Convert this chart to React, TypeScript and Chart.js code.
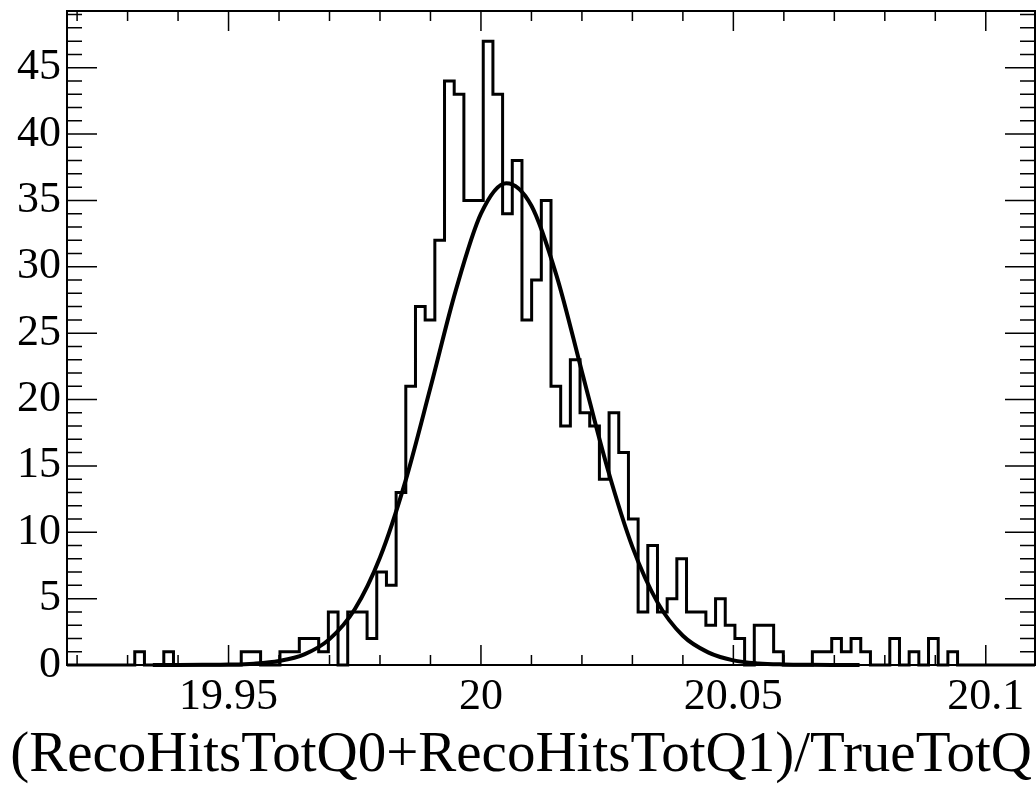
import React, { useEffect, useRef } from 'react';
import { Chart, registerables } from 'chart.js';

Chart.register(...registerables);

// ---- data ----
const X_MIN = 19.918;
const BIN_WIDTH = 0.0019175;
const N_BINS = 100;
const X_MAX = X_MIN + N_BINS * BIN_WIDTH;
const Y_MIN = 0;
const Y_MAX = 49.27;

// counts per bin (100 bins, left to right)
const BIN_COUNTS = [
  0, 0, 0, 0, 0, 0, 0, 1, 0, 0,
  1, 0, 0, 0, 0, 0, 0, 0, 1, 1,
  0, 0, 1, 1, 2, 2, 1, 4, 0, 4,
  4, 2, 7, 6, 13, 21, 27, 26, 32, 44,
  43, 35, 35, 47, 43, 34, 38, 26, 29, 35,
  21, 18, 23, 19, 18, 14, 19, 16, 11, 4,
  9, 4, 5, 8, 4, 4, 3, 5, 3, 2,
  0, 3, 3, 1, 0, 0, 0, 1, 1, 2,
  1, 2, 1, 0, 0, 2, 0, 1, 0, 2,
  0, 1, 0, 0, 0, 0, 0, 0, 0, 0,
];

// fitted curve, points
const CURVE_X = [
  19.935, 19.94, 19.945, 19.95, 19.955, 19.96, 19.965, 19.97, 19.975, 19.98,
  19.985, 19.99, 19.995, 20.0, 20.005, 20.01, 20.015, 20.02, 20.025, 20.03,
  20.035, 20.04, 20.045, 20.05, 20.055, 20.06, 20.065, 20.07, 20.075,
];
const CURVE_Y = [
  0, 0, 0.01, 0.03, 0.1, 0.3, 0.8, 1.95, 4.2, 8.1,
  13.8, 20.9, 28.2, 34.0, 36.3, 34.6, 29.3, 22.1, 14.9, 8.9,
  4.7, 2.2, 0.95, 0.35, 0.12, 0.04, 0.01, 0, 0,
];

const X_TICK_VALUES = [19.95, 20, 20.05, 20.1];
const X_TICK_LABELS = ['19.95', '20', '20.05', '20.1'];
const Y_TICK_VALUES = [0, 5, 10, 15, 20, 25, 30, 35, 40, 45];
const Y_TICK_LABELS = ['0', '5', '10', '15', '20', '25', '30', '35', '40', '45'];
const X_MINOR_STEP = 0.01;
const Y_MINOR_STEP = 1;
const X_TITLE = '(RecoHitsTotQ0+RecoHitsTotQ1)/TrueTotQ';

const FONT = '"Liberation Serif", "Times New Roman", Times, serif';

const frameTicksPlugin = {
  id: 'frameTicks',
  afterDatasetsDraw(chart: any) {
    const { ctx, chartArea: a, scales } = chart;
    const xs = scales.x;
    const ys = scales.y;
    ctx.save();
    ctx.strokeStyle = '#000';
    ctx.lineWidth = 1.5;
    ctx.beginPath();
    const kx0 = Math.ceil(X_MIN / X_MINOR_STEP - 1e-9);
    const kx1 = Math.floor(X_MAX / X_MINOR_STEP + 1e-9);
    for (let k = kx0; k <= kx1; k++) {
      const v = k * X_MINOR_STEP;
      const px = xs.getPixelForValue(v);
      const major = X_TICK_VALUES.some((t) => Math.abs(t - v) < 1e-6);
      const len = major ? 20 : 10;
      ctx.moveTo(px, a.bottom);
      ctx.lineTo(px, a.bottom - len);
      ctx.moveTo(px, a.top);
      ctx.lineTo(px, a.top + len);
    }
    const ky0 = Math.ceil(Y_MIN / Y_MINOR_STEP - 1e-9);
    const ky1 = Math.floor(Y_MAX / Y_MINOR_STEP + 1e-9);
    for (let k = ky0; k <= ky1; k++) {
      const v = k * Y_MINOR_STEP;
      const py = ys.getPixelForValue(v);
      const major = Y_TICK_VALUES.some((t) => Math.abs(t - v) < 1e-6);
      const len = major ? 30 : 15;
      ctx.moveTo(a.left, py);
      ctx.lineTo(a.left + len, py);
      ctx.moveTo(a.right, py);
      ctx.lineTo(a.right - len, py);
    }
    ctx.stroke();
    ctx.lineWidth = 2;
    ctx.strokeRect(a.left, a.top, a.right - a.left, a.bottom - a.top);

    // axis title (right-aligned, wider than the frame as in the reference)
    ctx.fillStyle = '#000';
    ctx.font = `57px ${FONT}`;
    ctx.textAlign = 'right';
    ctx.textBaseline = 'alphabetic';
    ctx.fillText(X_TITLE, a.right - 3, 771);
    ctx.restore();
  },
};

export default function App() {
  const ref = useRef<HTMLCanvasElement>(null);

  useEffect(() => {
    document.body.style.margin = '0';
    const histData = [];
    for (let i = 0; i <= N_BINS; i++) {
      histData.push({ x: X_MIN + i * BIN_WIDTH, y: BIN_COUNTS[Math.min(i, N_BINS - 1)] });
    }
    const curveData = CURVE_X.map((x, i) => ({ x, y: CURVE_Y[i] }));

    const chart = new Chart(ref.current as HTMLCanvasElement, {
      type: 'line',
      data: {
        datasets: [
          {
            label: 'fit',
            data: curveData,
            borderColor: '#000',
            borderWidth: 4,
            pointRadius: 0,
            cubicInterpolationMode: 'monotone',
            fill: false,
            order: 0,
            clip: 6,
          } as any,
          {
            label: 'hist',
            data: histData,
            borderColor: '#000',
            borderWidth: 3,
            pointRadius: 0,
            stepped: 'before',
            fill: false,
            order: 1,
            clip: 6,
          } as any,
        ],
      },
      options: {
        animation: false,
        responsive: false,
        devicePixelRatio: 1,
        events: [],
        layout: { padding: { top: 11, right: 1, left: 0, bottom: 0 } },
        plugins: {
          legend: { display: false },
          tooltip: { enabled: false },
        },
        scales: {
          x: {
            type: 'linear',
            min: X_MIN,
            max: X_MAX,
            grid: { display: false, drawTicks: false, tickLength: 0 },
            border: { display: false },
            afterBuildTicks: (s: any) => {
              s.ticks = X_TICK_VALUES.map((v) => ({ value: v }));
            },
            afterFit: (s: any) => {
              s.height = 122;
              s.paddingLeft = 0;
              s.paddingRight = 0;
            },
            ticks: {
              autoSkip: false,
              maxRotation: 0,
              minRotation: 0,
              padding: 10,
              color: '#000',
              font: { family: FONT, size: 44, lineHeight: 1 },
              callback: (_v: any, i: number) => X_TICK_LABELS[i],
            },
            title: { display: false, text: X_TITLE },
          },
          y: {
            type: 'linear',
            min: Y_MIN,
            max: Y_MAX,
            grid: { display: false, drawTicks: false, tickLength: 0 },
            border: { display: false },
            afterBuildTicks: (s: any) => {
              s.ticks = Y_TICK_VALUES.map((v) => ({ value: v }));
            },
            afterFit: (s: any) => {
              s.width = 67;
              s.paddingTop = 0;
              s.paddingBottom = 0;
            },
            ticks: {
              autoSkip: false,
              padding: 6,
              color: '#000',
              font: { family: FONT, size: 44, lineHeight: 1 },
              callback: (_v: any, i: number) => Y_TICK_LABELS[i],
            },
          },
        },
      } as any,
      plugins: [frameTicksPlugin],
    });
    return () => chart.destroy();
  }, []);

  return (
    <div style={{ width: 1036, height: 787, background: '#fff' }}>
      <canvas ref={ref} width={1036} height={787} style={{ display: 'block' }} />
    </div>
  );
}
